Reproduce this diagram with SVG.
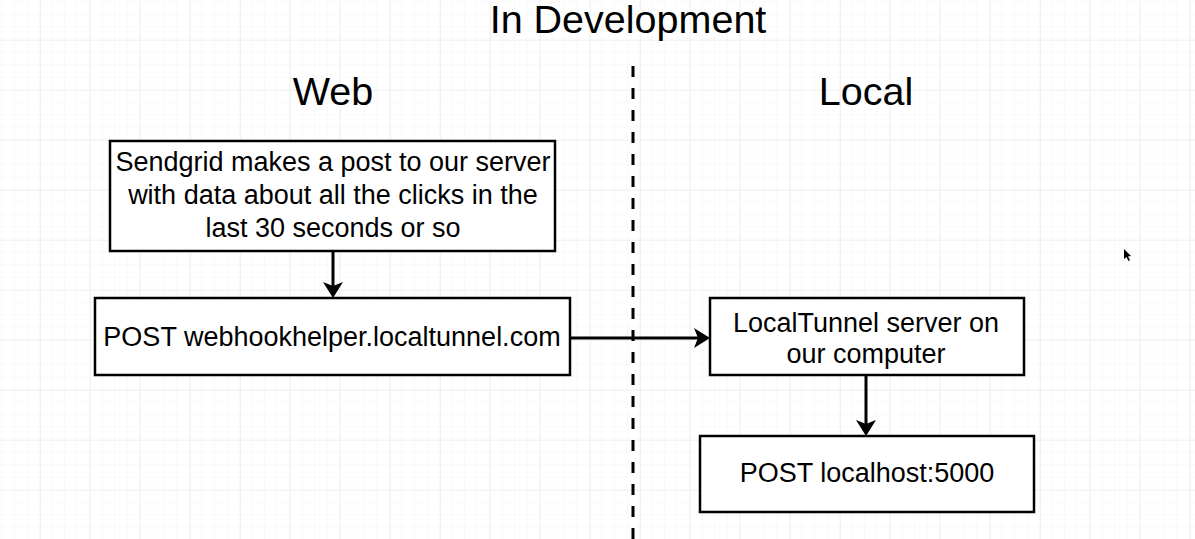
<svg xmlns="http://www.w3.org/2000/svg" width="1195" height="539" viewBox="0 0 1195 539">
<defs>
<pattern id="minor" x="0" y="0" width="12.5" height="12.5" patternUnits="userSpaceOnUse">
<path d="M12.5 0V12.5M0 12.5H12.5" fill="none" stroke="#f3f3f3" stroke-width="1"/>
</pattern>
<pattern id="major" x="40" y="40" width="50" height="50" patternUnits="userSpaceOnUse">
<rect width="50" height="50" fill="url(#minor)"/>
<path d="M0 0V50M0 0H50" fill="none" stroke="#e8e8e8" stroke-width="1"/>
</pattern>
<style>
text{font-family:"Liberation Sans",Arial,sans-serif;fill:#000;text-anchor:middle}
.h{font-size:39.5px}
.t{font-size:27px}
.box{fill:#fff;stroke:#000;stroke-width:2.5}
.c{fill:none;stroke:#000;stroke-width:3}
.ah{fill:#000}
</style>
</defs>
<rect width="1195" height="539" fill="#fff"/>
<rect width="1195" height="539" fill="url(#major)"/>
<text class="h" x="628" y="33">In Development</text>
<text class="h" x="333" y="105">Web</text>
<text class="h" x="866" y="105">Local</text>
<line x1="633" y1="66" x2="633" y2="539" stroke="#000" stroke-width="3" stroke-dasharray="11 11"/>
<g id="connectors">
<line class="c" x1="333" y1="251" x2="333" y2="290"/>
<path class="ah" d="M323 282L333 298L343 282L333 286Z"/>
<line class="c" x1="570" y1="338" x2="702" y2="338"/>
<path class="ah" d="M694 328L710 338L694 348L698 338Z"/>
<line class="c" x1="866" y1="375" x2="866" y2="428"/>
<path class="ah" d="M856 420L866 436L876 420L866 424Z"/>
</g>
<g id="sendgrid">
<rect class="box" x="110" y="141" width="445" height="110"/>
<text class="t" x="333" y="171">Sendgrid makes a post to our server</text>
<text class="t" x="333" y="204">with data about all the clicks in the</text>
<text class="t" x="333" y="237">last 30 seconds or so</text>
</g>
<g id="post-web">
<rect class="box" x="95" y="298" width="475" height="77"/>
<text class="t" x="332" y="346">POST webhookhelper.localtunnel.com</text>
</g>
<g id="localtunnel">
<rect class="box" x="710" y="298" width="314" height="77"/>
<text class="t" x="866" y="332">LocalTunnel server on</text>
<text class="t" x="866" y="363">our computer</text>
</g>
<g id="localhost">
<rect class="box" x="700" y="436" width="334" height="76"/>
<text class="t" x="867" y="482">POST localhost:5000</text>
</g>
<path d="M1124 249L1124 259L1126.5 257L1128.5 261L1130 260.3L1128 256.5L1131 256Z" fill="#000"/>
</svg>
